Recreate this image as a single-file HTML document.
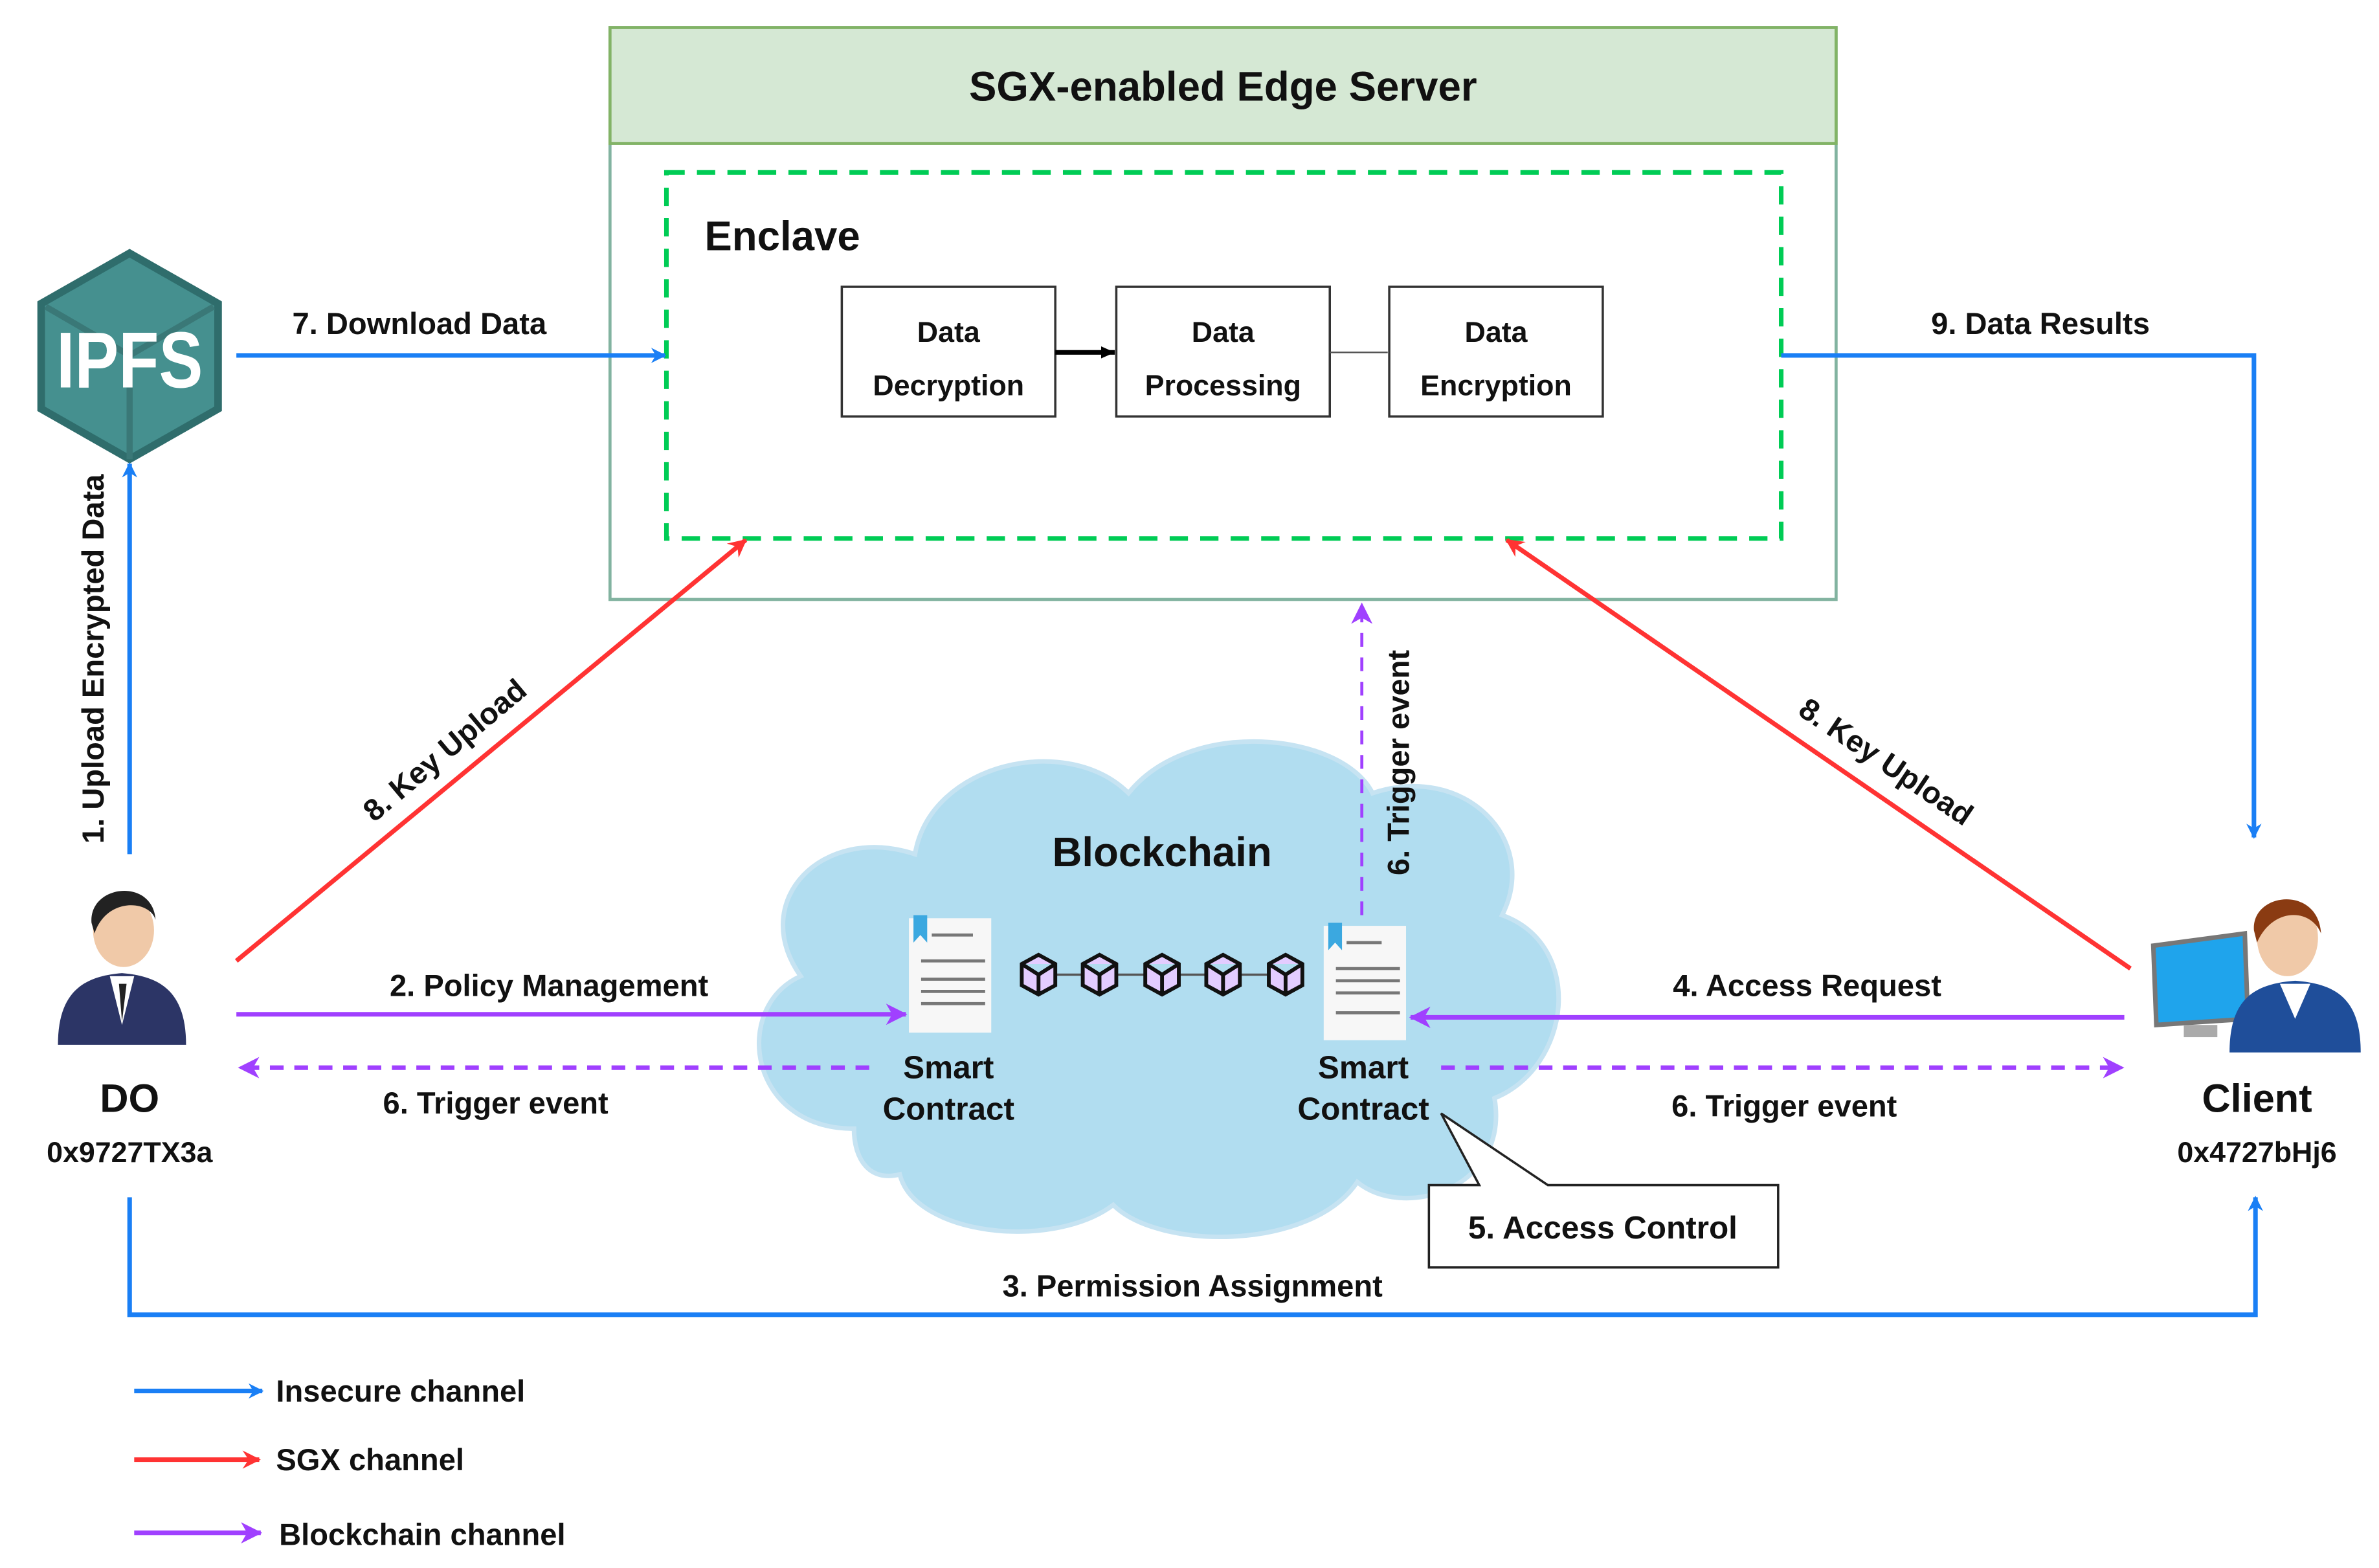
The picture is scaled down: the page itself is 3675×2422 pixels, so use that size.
<!DOCTYPE html>
<html><head><meta charset="utf-8"><style>
html,body{margin:0;padding:0;background:#fff}
svg{display:block}
text{font-family:"Liberation Sans",Arial,sans-serif;font-weight:bold;fill:#111}
</style></head><body>
<svg width="3675" height="2422" viewBox="0 0 1560 1028" xmlns="http://www.w3.org/2000/svg">
<defs>
<marker id="ab" markerWidth="10" markerHeight="10" refX="9" refY="5" orient="auto" markerUnits="userSpaceOnUse"><path d="M0,0 L10,5 L0,10 L3,5 z" fill="#1a7ff5"/></marker>
<marker id="ar" markerWidth="12" markerHeight="12" refX="11" refY="6" orient="auto" markerUnits="userSpaceOnUse"><path d="M0,0 L12,6 L0,12 L4,6 z" fill="#ff3333"/></marker>
<marker id="ap" markerWidth="14" markerHeight="14" refX="13" refY="7" orient="auto" markerUnits="userSpaceOnUse"><path d="M0,0 L14,7 L0,14 L4,7 z" fill="#a040ff"/></marker>
<marker id="ak" markerWidth="10" markerHeight="10" refX="9" refY="5" orient="auto" markerUnits="userSpaceOnUse"><path d="M0,1 L9,5 L0,9 z" fill="#000"/></marker>
</defs>

<rect x="400" y="18" width="804" height="375" fill="#fff" stroke="#82b3a0" stroke-width="2"/>
<rect x="400" y="18" width="804" height="76" fill="#d5e8d4" stroke="#82b366" stroke-width="2"/>
<text x="802" y="66" font-size="27" text-anchor="middle">SGX-enabled Edge Server</text>
<rect x="437" y="113" width="731" height="240" fill="none" stroke="#00cc55" stroke-width="3" stroke-dasharray="12,8"/>
<text x="462" y="164" font-size="27">Enclave</text>
<g font-size="19" text-anchor="middle">
<rect x="552" y="188" width="140" height="85" fill="#fff" stroke="#333" stroke-width="1.5"/>
<text x="622" y="224">Data</text><text x="622" y="259">Decryption</text>
<rect x="732" y="188" width="140" height="85" fill="#fff" stroke="#333" stroke-width="1.5"/>
<text x="802" y="224">Data</text><text x="802" y="259">Processing</text>
<rect x="911" y="188" width="140" height="85" fill="#fff" stroke="#333" stroke-width="1.5"/>
<text x="981" y="224">Data</text><text x="981" y="259">Encryption</text>
</g>
<line x1="692" y1="231" x2="731" y2="231" stroke="#000" stroke-width="3" marker-end="url(#ak)"/>
<line x1="872" y1="231" x2="910" y2="231" stroke="#555" stroke-width="1"/>

<polygon points="85,166 143,199 143,268 85,301 27,268 27,199" fill="#45908f" stroke="#2f6d6c" stroke-width="5"/>
<path d="M85,233 L85,301 M85,233 L30,201 M85,233 L140,201" stroke="#3a7877" stroke-width="4" fill="none"/>
<text x="85" y="254" font-size="52" text-anchor="middle" style="fill:#fff" textLength="96" lengthAdjust="spacingAndGlyphs">IPFS</text>

<path d="M560,740 C490,740 480,660 525,640 C490,590 540,540 600,560 C610,500 700,480 740,520 C780,470 880,480 900,520 C960,500 1010,550 985,600 C1040,620 1030,700 980,720 C990,780 920,800 890,775 C860,820 760,820 730,790 C690,820 600,810 590,770 C570,775 560,760 560,740 Z" fill="#b1ddf0" stroke="#c6e3f2" stroke-width="3"/>
<text x="762" y="568" font-size="27" text-anchor="middle">Blockchain</text>
<rect x="596" y="602" width="54" height="75" fill="#f7f7f7"/>
<path d="M599,600 h9 v18 l-4.5,-5 l-4.5,5 z" fill="#3ba8e0"/>
<g stroke="#777" stroke-width="2"><line x1="611" y1="613" x2="638" y2="613"/><line x1="604" y1="630" x2="646" y2="630"/><line x1="604" y1="642" x2="646" y2="642"/><line x1="604" y1="650" x2="646" y2="650"/><line x1="604" y1="658" x2="646" y2="658"/></g>
<rect x="868" y="607" width="54" height="75" fill="#f7f7f7"/>
<path d="M871,605 h9 v18 l-4.5,-5 l-4.5,5 z" fill="#3ba8e0"/>
<g stroke="#777" stroke-width="2"><line x1="883" y1="618" x2="906" y2="618"/><line x1="876" y1="635" x2="918" y2="635"/><line x1="876" y1="643" x2="918" y2="643"/><line x1="876" y1="651" x2="918" y2="651"/><line x1="876" y1="664" x2="918" y2="664"/></g>
<g stroke="#111" stroke-width="2.5" fill="#e3ccff">
<line x1="681" y1="639" x2="843" y2="639" stroke="#555" stroke-width="1.5"/>
<path d="M681,626 l11,6 v14 l-11,6 l-11,-6 v-14 z M681,639 v13 M670,632 l11,7 l11,-7"/>
<path d="M721,626 l11,6 v14 l-11,6 l-11,-6 v-14 z M721,639 v13 M710,632 l11,7 l11,-7"/>
<path d="M762,626 l11,6 v14 l-11,6 l-11,-6 v-14 z M762,639 v13 M751,632 l11,7 l11,-7"/>
<path d="M802,626 l11,6 v14 l-11,6 l-11,-6 v-14 z M802,639 v13 M791,632 l11,7 l11,-7"/>
<path d="M843,626 l11,6 v14 l-11,6 l-11,-6 v-14 z M843,639 v13 M832,632 l11,7 l11,-7"/>
</g>
<g font-size="21" text-anchor="middle">
<text x="622" y="707">Smart</text><text x="622" y="734">Contract</text>
<text x="894" y="707">Smart</text><text x="894" y="734">Contract</text>
</g>

<path d="M937,777 L970,777 L945,730 L1015,777 L1166,777 L1166,831 L937,831 Z" fill="#fff" stroke="#222" stroke-width="1.5"/>
<text x="1051" y="812" font-size="21" text-anchor="middle">5. Access Control</text>

<g>
<path d="M38,685 C38,650 55,640 80,638 C105,640 122,650 122,685 Z" fill="#2c3566"/>
<path d="M72,640 L80,672 L88,640 Z" fill="#fff"/>
<path d="M78,645 L80,670 L83,645 Z" fill="#222"/>
<ellipse cx="81" cy="610" rx="20" ry="24" fill="#f0c9a8"/>
<path d="M60,605 C58,580 100,575 102,603 C98,590 70,588 62,612 Z" fill="#222"/>
</g>
<text x="85" y="729" font-size="26" text-anchor="middle">DO</text>
<text x="85" y="762" font-size="19" text-anchor="middle">0x9727TX3a</text>

<g>
<path d="M1412,620 L1472,612 L1474,668 L1414,672 Z" fill="#1fa4ec" stroke="#777" stroke-width="3"/>
<rect x="1432" y="672" width="22" height="8" fill="#aaa"/>
<path d="M1462,690 C1462,655 1478,645 1505,643 C1532,645 1548,655 1548,690 Z" fill="#1f4e9a"/>
<path d="M1495,645 L1505,668 L1515,645 Z" fill="#fff"/>
<ellipse cx="1500" cy="615" rx="20" ry="25" fill="#f0c9a8"/>
<path d="M1478,610 C1476,585 1520,580 1522,612 C1515,595 1490,595 1480,618 Z" fill="#8a3b12"/>
</g>
<text x="1480" y="729" font-size="26" text-anchor="middle">Client</text>
<text x="1480" y="762" font-size="19" text-anchor="middle">0x4727bHj6</text>

<g stroke="#1a7ff5" stroke-width="3" fill="none">
<line x1="155" y1="233" x2="436" y2="233" marker-end="url(#ab)"/>
<polyline points="1168,233 1478,233 1478,549" marker-end="url(#ab)"/>
<line x1="85" y1="560" x2="85" y2="304" marker-end="url(#ab)"/>
<polyline points="85,785 85,862 1479,862 1479,785" marker-end="url(#ab)"/>
</g>
<g font-size="20">
<text x="275" y="219" text-anchor="middle">7. Download Data</text>
<text x="1338" y="219" text-anchor="middle">9. Data Results</text>
<text x="782" y="850" text-anchor="middle">3. Permission Assignment</text>
<text transform="translate(68,432) rotate(-90)" text-anchor="middle">1. Upload Encrypted Data</text>
</g>

<g stroke="#ff3333" stroke-width="3">
<line x1="155" y1="630" x2="489" y2="354" marker-end="url(#ar)"/>
<line x1="1397" y1="635" x2="988" y2="354" marker-end="url(#ar)"/>
</g>
<g font-size="20">
<text transform="translate(296,497) rotate(-40)" text-anchor="middle">8. Key Upload</text>
<text transform="translate(1233,505) rotate(34)" text-anchor="middle">8. Key Upload</text>
</g>

<g stroke="#a040ff" stroke-width="3" fill="none">
<line x1="155" y1="665" x2="594" y2="665" marker-end="url(#ap)"/>
<line x1="1393" y1="667" x2="925" y2="667" marker-end="url(#ap)"/>
<line x1="570" y1="700" x2="157" y2="700" stroke-dasharray="9,7" marker-end="url(#ap)"/>
<line x1="945" y1="700" x2="1392" y2="700" stroke-dasharray="9,7" marker-end="url(#ap)"/>
<line x1="893" y1="600" x2="893" y2="396" stroke-width="2" stroke-dasharray="9,7" marker-end="url(#ap)"/>
</g>
<g font-size="20">
<text x="360" y="653" text-anchor="middle">2. Policy Management</text>
<text x="1185" y="653" text-anchor="middle">4. Access Request</text>
<text x="325" y="730" text-anchor="middle">6. Trigger event</text>
<text x="1170" y="732" text-anchor="middle">6. Trigger event</text>
<text transform="translate(924,500) rotate(-90)" text-anchor="middle">6. Trigger event</text>
</g>

<line x1="88" y1="912" x2="172" y2="912" stroke="#1a7ff5" stroke-width="3" marker-end="url(#ab)"/>
<line x1="88" y1="957" x2="170" y2="957" stroke="#ff3333" stroke-width="3" marker-end="url(#ar)"/>
<line x1="88" y1="1005" x2="171" y2="1005" stroke="#a040ff" stroke-width="3" marker-end="url(#ap)"/>
<g font-size="20">
<text x="181" y="919">Insecure channel</text>
<text x="181" y="964">SGX channel</text>
<text x="183" y="1013">Blockchain channel</text>
</g>
</svg>
</body></html>
